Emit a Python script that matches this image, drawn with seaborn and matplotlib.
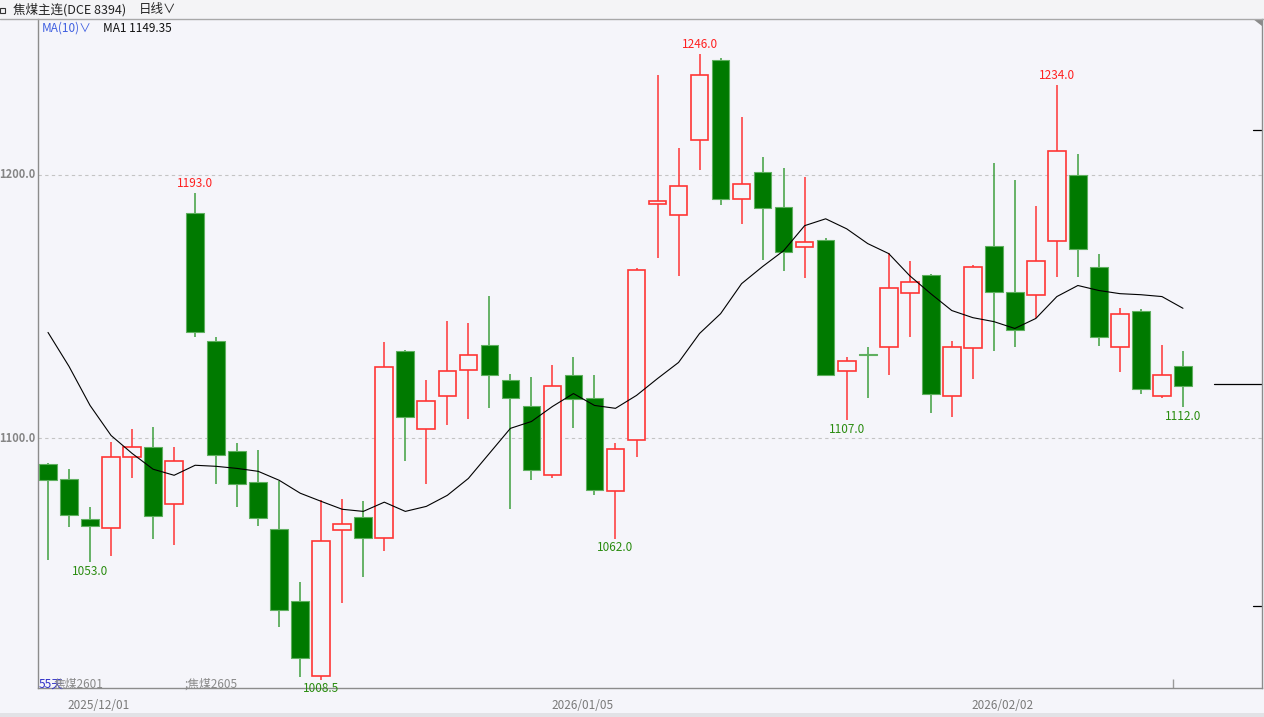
import numpy as np
import pandas as pd
import seaborn as sns
import matplotlib.pyplot as plt
from matplotlib.patches import Rectangle, Polygon
from matplotlib.lines import Line2D

# daily OHLC (55 sessions)
opens = [1090.2, 1084.5, 1069.3, 1065.9, 1092.8, 1096.6, 1075.0, 1185.6, 1137.1, 1095.1,
         1083.3, 1065.5, 1038.3, 1009.8, 1065.2, 1070.1, 1062.1, 1133.3, 1103.4, 1115.9,
         1126.1, 1135.6, 1122.0, 1112.1, 1086.0, 1123.9, 1115.2, 1079.9, 1099.2, 1189.0,
         1184.8, 1213.3, 1243.6, 1190.9, 1201.1, 1187.9, 1172.7, 1175.4, 1125.4, 1131.8,
         1134.8, 1155.3, 1162.1, 1115.9, 1134.1, 1173.1, 1155.7, 1154.5, 1175.0, 1200.0,
         1165.2, 1134.8, 1148.5, 1115.9, 1127.3]
highs = [1090.5, 1088.3, 1073.9, 1098.5, 1103.4, 1104.2, 1096.6, 1193.0, 1138.3, 1098.1,
         1095.5, 1083.7, 1045.5, 1076.5, 1076.9, 1076.1, 1136.7, 1133.6, 1122.3, 1144.7,
         1143.6, 1154.2, 1124.6, 1123.1, 1128.0, 1130.7, 1123.9, 1098.1, 1164.5, 1237.9,
         1210.2, 1246.0, 1244.3, 1222.0, 1206.8, 1202.7, 1199.2, 1176.1, 1131.0, 1134.8,
         1170.5, 1167.4, 1162.5, 1137.1, 1165.9, 1204.5, 1198.1, 1188.3, 1234.0, 1208.0,
         1170.1, 1149.6, 1149.2, 1135.6, 1133.3]
lows = [1054.0, 1066.3, 1053.0, 1055.3, 1084.8, 1061.7, 1059.5, 1138.3, 1082.6, 1073.9,
        1066.7, 1028.4, 1009.5, 1008.5, 1037.5, 1047.3, 1057.2, 1091.3, 1082.6, 1104.9,
        1107.2, 1111.7, 1073.1, 1084.1, 1085.0, 1103.8, 1078.4, 1062.0, 1092.8, 1168.6,
        1161.7, 1201.9, 1188.6, 1181.4, 1167.8, 1163.6, 1161.0, 1123.5, 1107.0, 1115.2,
        1123.9, 1138.6, 1109.8, 1108.0, 1122.7, 1133.0, 1134.8, 1145.5, 1161.4, 1161.4,
        1135.2, 1125.0, 1117.0, 1115.5, 1112.0]
closes = [1084.1, 1070.8, 1066.7, 1092.8, 1096.6, 1070.5, 1091.3, 1140.2, 1093.6, 1082.6,
          1069.7, 1034.8, 1016.7, 1061.0, 1067.4, 1062.1, 1126.9, 1108.0, 1114.0, 1125.4,
          1131.8, 1123.9, 1115.5, 1087.9, 1119.7, 1114.8, 1080.3, 1095.8, 1164.0, 1190.2,
          1195.8, 1237.9, 1190.9, 1196.6, 1187.5, 1170.8, 1174.6, 1123.9, 1129.2, 1131.5,
          1157.2, 1159.5, 1116.7, 1134.8, 1165.2, 1155.7, 1141.3, 1167.4, 1209.1, 1172.0,
          1138.3, 1147.0, 1118.9, 1123.9, 1119.7]
# MA(10) as drawn
ma10 = [1140.2, 1127.3, 1112.5, 1101.1, 1094.3, 1088.3, 1086.0, 1089.8, 1089.4, 1088.6,
        1087.5, 1084.1, 1079.2, 1076.1, 1073.1, 1072.3, 1075.8, 1072.3, 1074.2, 1078.4,
        1084.8, 1094.3, 1103.8, 1106.4, 1112.1, 1117.0, 1112.5, 1111.4, 1116.3, 1122.7,
        1128.8, 1139.8, 1147.3, 1158.7, 1165.2, 1171.2, 1180.7, 1183.3, 1179.5, 1173.9,
        1170.1, 1161.7, 1154.9, 1148.5, 1145.8, 1144.3, 1141.7, 1145.5, 1153.8, 1158.0,
        1156.1, 1154.9, 1154.5, 1153.8, 1149.35]

high_marks = [(7, 1193.0), (31, 1246.0), (48, 1234.0)]
low_marks = [(2, 1053.0), (13, 1008.5), (27, 1062.0), (38, 1107.0), (54, 1112.0)]
date_labels = [(1, "2025/12/01"), (24, "2026/01/05"), (44, "2026/02/02")]

W, H = 1264, 717
BG = "#F5F5FA"
GREEN = "#007A00"
GREEN_WICK = "#3F9F3F"
RED = "#FF3535"
LBL_GREEN = "#2A8C10"

sns.set_style("white")
plt.rcParams['font.family'] = ['Noto Sans CJK SC', 'DejaVu Sans']

df = pd.DataFrame({"open": opens, "high": highs, "low": lows, "close": closes, "ma": ma10})
df["idx"] = np.arange(len(df))

fig = plt.figure(figsize=(W / 100, H / 100), dpi=100, facecolor=BG)
L, R, T, B = 38, 1262, 19, 688
ax = fig.add_axes([L / W, (H - B) / H, (R - L) / W, (B - T) / H])
ax.set_facecolor(BG)

XMAX = 57.76
YMIN = 1005.3
ax.set_xlim(-0.476, XMAX)
ax.set_ylim(YMIN, 1259.1)

for y in (1100, 1200):
    ax.axhline(y, color="#C4C4C4", lw=0.8, ls=(0, (3, 3)), zorder=0)

bw = 0.84
for _, r in df.iterrows():
    i = r["idx"]
    up = r["close"] >= r["open"]
    top = max(r["open"], r["close"])
    bot = min(r["open"], r["close"])
    if up:
        ax.vlines(i, r["low"], bot, color=RED, lw=1.1, zorder=2)
        ax.vlines(i, top, r["high"], color=RED, lw=1.1, zorder=2)
        ax.add_patch(Rectangle((i - bw / 2, bot), bw, max(top - bot, 0.4),
                               facecolor=BG, edgecolor=RED, lw=1.2, zorder=3))
    else:
        ax.vlines(i, r["low"], r["high"], color=GREEN_WICK, lw=1.1, zorder=2)
        ax.add_patch(Rectangle((i - bw / 2, bot), bw, max(top - bot, 0.4),
                               facecolor=GREEN, edgecolor="#5FAF5F", lw=0.8, zorder=3))

sns.lineplot(data=df, x="idx", y="ma", ax=ax, color="black", lw=0.8, zorder=4)

for i, v in high_marks:
    ax.annotate(f"{v:.1f}", (i, v), xytext=(0, 2), textcoords="offset points",
                ha="center", va="bottom", color="#FF2020", fontsize=8.5)
for i, v in low_marks:
    ax.annotate(f"{v:.1f}", (i, v), xytext=(0, -2), textcoords="offset points",
                ha="center", va="top", color=LBL_GREEN, fontsize=8.5)

ax.set_xticks([])
ax.set_yticks([])
ax.set_xlabel("")
ax.set_ylabel("")
ax.spines["top"].set_visible(False)
for s in ("left", "bottom", "right"):
    ax.spines[s].set_color("#8C8C8C")
    ax.spines[s].set_linewidth(1.0)

# y labels at left of spine
for y in (1100, 1200):
    ax.text(-0.6, y, f"{y:.1f}", transform=ax.transData, ha="right", va="center",
            color="#858585", fontsize=8, fontweight="bold", clip_on=False)

# right side ticks / last price marker
for y, x0 in ((1217.0, 57.33), (1120.5, 55.5), (1036.4, 57.33)):
    ax.add_line(Line2D([x0, XMAX], [y, y], color="black", lw=0.9, clip_on=False))

# dates under axis
for i, s in date_labels:
    ax.annotate(s, (i - 0.05, YMIN), xytext=(0, -12.5), textcoords="offset points",
                ha="left", va="center", color="#7A7A7A", fontsize=8.5, annotation_clip=False)

# bottom inside texts
ax.text(-0.45, 1006.6, "55天", color="#3030C8", fontsize=8.5, ha="left", va="center", zorder=5)
ax.text(0.25, 1006.6, "焦煤2601", color="#8A8A8A", fontsize=8.5, ha="left", va="center", zorder=5)
ax.text(6.5, 1006.6, ";焦煤2605", color="#8A8A8A", fontsize=8.5, ha="left", va="center", zorder=5)
ax.vlines(53.52, YMIN, 1008.7, color="#9A9A9A", lw=1)

# header bar
fig.add_artist(Rectangle((0, (H - 18) / H), 1, 18 / H, transform=fig.transFigure,
                         facecolor="#F4F4F6", edgecolor="none"))
fig.add_artist(Line2D([0, 1], [(H - 18.5) / H] * 2, transform=fig.transFigure,
                      color="#A8A8A8", lw=1))
fig.add_artist(Rectangle((0, (H - 13) / H), 5 / W, 5 / H, transform=fig.transFigure,
                         facecolor="none", edgecolor="#333333", lw=0.8))
fig.text(13 / W, (H - 10) / H, "焦煤主连(DCE 8394)", fontsize=9, color="#222222",
         ha="left", va="center")
fig.text(139 / W, (H - 10) / H, "日线∨", fontsize=9, color="#222222", ha="left", va="center")

# MA legend
fig.text(42 / W, (H - 28) / H, "MA(10)∨", fontsize=8.5, color="#3F5FE0", ha="left", va="center")
fig.text(103 / W, (H - 28) / H, "MA1 1149.35", fontsize=8.5, color="#111111", ha="left", va="center")

# top-right corner triangle
fig.add_artist(Polygon([[1253 / W, (H - 19) / H], [1262 / W, (H - 19) / H],
                        [1262 / W, (H - 26) / H]], closed=True, transform=fig.transFigure,
                       facecolor="#8A8A8A", edgecolor="none"))

# bottom strip
fig.add_artist(Rectangle((0, 0), 1, 4 / H, transform=fig.transFigure,
                         facecolor="#E2E2E6", edgecolor="none"))

fig.savefig("out.png", dpi=100, facecolor=BG)
